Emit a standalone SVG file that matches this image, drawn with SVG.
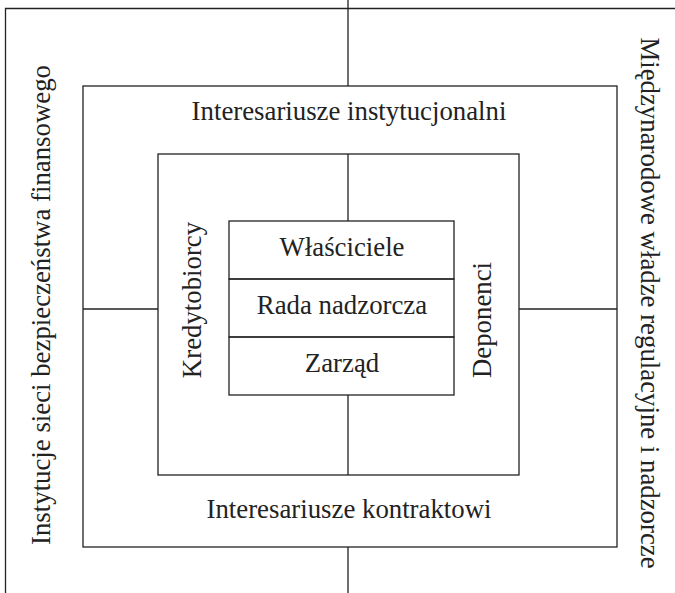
<svg xmlns="http://www.w3.org/2000/svg" width="675" height="593" viewBox="0 0 675 593">
<style>
.ln{stroke:#222;stroke-width:1.3;fill:none}
.bx{stroke:#222;stroke-width:1.3;fill:none}
.t{font-family:"Liberation Serif","Times New Roman",serif;font-size:26.8px;fill:#222;text-anchor:middle}
</style>
<rect width="675" height="593" fill="#fff"/>
<g id="frame">
<path class="ln" d="M5.5,593 V8.5 H675"/>
</g>
<g id="connectors">
<path class="ln" d="M348,0 V86 M348,154 V221 M348,395 V475 M348,547 V593 M83,309 H158 M519,309 H617"/>
</g>
<g id="institutional">
<rect class="bx" x="83" y="86" width="534" height="461"/>
<text class="t" x="349" y="120">Interesariusze instytucjonalni</text>
</g>
<g id="contract">
<rect class="bx" x="158" y="154" width="361" height="321"/>
<text class="t" x="349" y="518">Interesariusze kontraktowi</text>
</g>
<g id="wlasciciele">
<rect class="bx" x="229" y="221" width="225" height="58"/>
<text class="t" x="342" y="256">Właściciele</text>
</g>
<g id="rada">
<rect class="bx" x="229" y="279" width="225" height="58"/>
<text class="t" x="342" y="314">Rada nadzorcza</text>
</g>
<g id="zarzad">
<rect class="bx" x="229" y="337" width="225" height="58"/>
<text class="t" x="342" y="372">Zarząd</text>
</g>
<g id="kredytobiorcy">
<text class="t" transform="translate(201,300) rotate(-90)">Kredytobiorcy</text>
</g>
<g id="deponenci">
<text class="t" transform="translate(491,320) rotate(-90)">Deponenci</text>
</g>
<g id="siec">
<text class="t" transform="translate(50,305) rotate(-90)">Instytucje sieci bezpieczeństwa finansowego</text>
</g>
<g id="wladze">
<text class="t" transform="translate(641,303) rotate(90)">Międzynarodowe władze regulacyjne i nadzorcze</text>
</g>
</svg>
